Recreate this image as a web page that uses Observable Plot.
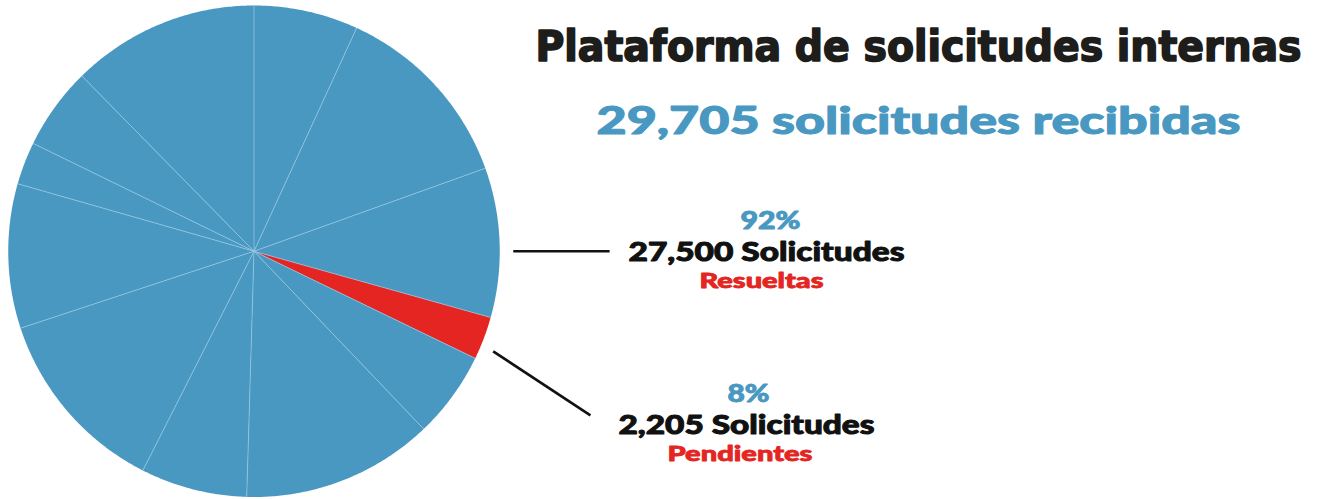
<!DOCTYPE html>
<html><head><meta charset="utf-8">
<script src="https://cdn.jsdelivr.net/npm/d3@7"></script>
<script src="https://cdn.jsdelivr.net/npm/@observablehq/plot@0.6"></script>
<style>
html,body{margin:0;padding:0;background:#fff}
#chart{width:1318px;height:499px;overflow:hidden}
</style>
</head><body><div id="chart"></div>
<script>
// ---- Data ----
const sliceIds    = ["s1","s2","s3","s4","s5","s6","s7","s8","s9","s10","s11","s12"];
const sliceValues = [24.7, 45.6, 35.4, 10.2, 20.5, 45.4, 25.2, 44.9, 34.2, 10.1, 19.5, 44.5];
const sliceStatus = ["Resueltas","Resueltas","Resueltas","Pendientes","Resueltas","Resueltas",
                     "Resueltas","Resueltas","Resueltas","Resueltas","Resueltas","Resueltas"];
const statusNames    = ["Resueltas", "Pendientes"];
const statusPercents = ["92%", "8%"];
const statusCounts   = ["27,500 Solicitudes", "2,205 Solicitudes"];
const titleText    = "Plataforma de solicitudes internas";
const subtitleText = "29,705 solicitudes recibidas";

// ---- Styles ----
const BLUE = "#4898c2", RED = "#e42522", DARK = "#1d1d1b";
const statusColor = {Resueltas: BLUE, Pendientes: RED};

// ---- Pie geometry (in scale units, radius 1) ----
const arcs = d3.pie().sort(null).value((d, i) => sliceValues[i])(sliceIds);
const polys = [];
arcs.forEach((a, i) => {
  const color = statusColor[sliceStatus[i]];
  const id = sliceIds[i];
  polys.push({id, color, x: 0, y: 0});
  const n = Math.max(2, Math.ceil((a.endAngle - a.startAngle) / (Math.PI / 360)));
  for (let k = 0; k <= n; ++k) {
    const t = a.startAngle + (a.endAngle - a.startAngle) * k / n;
    polys.push({id, color, x: Math.sin(t), y: Math.cos(t)});
  }
  polys.push({id, color, x: 0, y: 0});
});
const edges = arcs.map(a => ({x1: 0, y1: 0, x2: Math.sin(a.startAngle), y2: Math.cos(a.startAngle)}));

// leader lines: start just outside the pie, end near the labels
const deg = Math.PI / 180;
const leaderAngle = [90, 112.7];
const leaderR = 1.055;
const leaderEnd = [[1.447, 0.0], [1.369, -0.668]];
const leaders = statusNames.map((s, i) => ({
  x1: leaderR * Math.sin(leaderAngle[i] * deg), y1: leaderR * Math.cos(leaderAngle[i] * deg),
  x2: leaderEnd[i][0], y2: leaderEnd[i][1]
}));

const W = 1318, H = 499, mT = 5, mB = 2.5;
const R = (H - mT - mB) / 2;          // pixels per unit
const cx = 253.5;                      // pie centre, pixels
const txt = (text, x, base, size, color, family, weight, sw) =>
  Plot.text([text], {text: d => d, frameAnchor: "top-left", dx: x, dy: base - mT,
    textAnchor: "middle", lineAnchor: "bottom", fontSize: size, fill: color,
    fontFamily: family, fontWeight: weight, stroke: color, strokeWidth: sw});

const LBL = "Lato, 'Open Sans', sans-serif";
const TTL = "'DejaVu Sans Condensed', 'DejaVu Sans', sans-serif";
const plot = Plot.plot({
  width: W, height: H,
  marginLeft: 0, marginRight: 0, marginTop: mT, marginBottom: mB,
  x: {domain: [-cx / R, (W - cx) / R], axis: null},
  y: {domain: [-1, 1], axis: null},
  style: {background: "#fff", overflow: "visible"},
  marks: [
    Plot.line(polys, {x: "x", y: "y", z: "id", fill: "color", stroke: "none", curve: "linear"}),
    Plot.link(edges, {x1: "x1", y1: "y1", x2: "x2", y2: "y2", stroke: "#9ccae2", strokeWidth: 0.7}),
    Plot.link(leaders, {x1: "x1", y1: "y1", x2: "x2", y2: "y2", stroke: "#111", strokeWidth: 2.6}),
    txt(titleText, 918, 60.5, 43, DARK, TTL, 700, 1.6),
    txt(subtitleText, 918, 133.5, 38, BLUE, LBL, 900, 1.0),
    txt(statusPercents[0], 770, 228, 24, BLUE, LBL, 900, 0.9),
    txt(statusCounts[0], 766, 260.5, 27, "#111", LBL, 900, 1.0),
    txt(statusNames[0], 761, 287, 20, RED, LBL, 900, 0.8),
    txt(statusPercents[1], 748, 401, 24, BLUE, LBL, 900, 0.9),
    txt(statusCounts[1], 746, 433, 27, "#111", LBL, 900, 1.0),
    txt(statusNames[1], 739.5, 460.5, 21.5, RED, LBL, 900, 0.8)
  ]
});

// fit the text widths to those of the reference
const widths = {};
widths[titleText] = 766; widths[subtitleText] = 644;
widths[statusPercents[0]] = 60; widths[statusCounts[0]] = 276; widths[statusNames[0]] = 124;
widths[statusPercents[1]] = 42; widths[statusCounts[1]] = 256; widths[statusNames[1]] = 145;
plot.querySelectorAll("text").forEach(t => {
  const w = widths[t.textContent];
  if (w) { t.setAttribute("textLength", w); t.setAttribute("lengthAdjust", "spacingAndGlyphs"); }
});
document.getElementById("chart").appendChild(plot);
</script>
</body></html>
